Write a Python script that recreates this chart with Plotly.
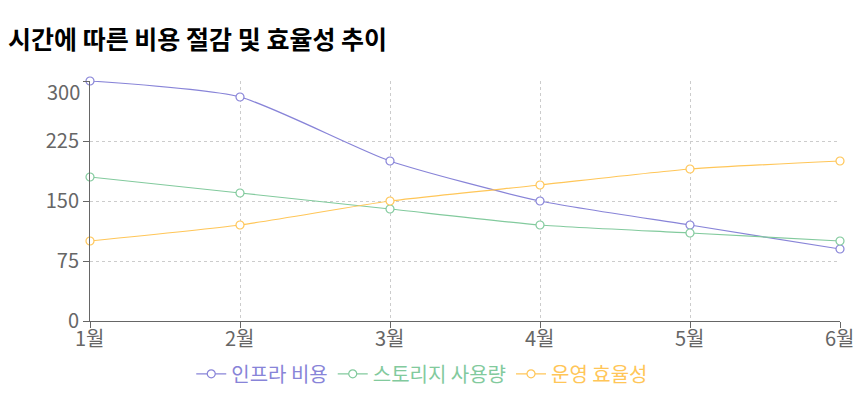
import plotly.graph_objects as go

months = ["1월", "2월", "3월", "4월", "5월", "6월"]
infra_cost = [300, 280, 200, 150, 120, 90]
storage_usage = [180, 160, 140, 120, 110, 100]
ops_efficiency = [100, 120, 150, 170, 190, 200]
y_ticks = [0, 75, 150, 225, 300]

series = [
    ("인프라 비용", infra_cost, "#8884d8"),
    ("스토리지 사용량", storage_usage, "#82ca9d"),
    ("운영 효율성", ops_efficiency, "#ffc658"),
]

FONT = "Noto Sans CJK KR"
fig = go.Figure()
for name, vals, color in series:
    fig.add_trace(go.Scatter(
        x=months, y=vals, mode="lines+markers",
        name=f"<span style='color:{color}'>{name}</span>",
        line=dict(color=color, width=1.2, shape="spline", smoothing=0.6),
        marker=dict(size=8, color="white", line=dict(color=color, width=1.2)),
        cliponaxis=False,
    ))

# top tick label is drawn slightly below its gridline in the reference
tick_text = [str(v) if v != y_ticks[-1] else "" for v in y_ticks]

annotations = [
    dict(text="<b>시간에 따른 비용 절감 및 효율성 추이</b>", xref="paper", yref="paper",
         x=-0.112, y=1.0, xanchor="left", yanchor="middle", yshift=43,
         showarrow=False, font=dict(size=25, color="#000", family=FONT)),
    dict(text=str(y_ticks[-1]), xref="paper", yref="y", x=0, y=y_ticks[-1],
         xanchor="right", yanchor="middle", xshift=-8, yshift=-10,
         showarrow=False, font=dict(size=20, color="#666", family=FONT)),
]
# x tick labels sit close to the axis in the reference
for m in months:
    annotations.append(dict(text=m, xref="x", yref="paper", x=m, y=0,
                            xanchor="center", yanchor="top", yshift=0,
                            showarrow=False, font=dict(size=20, color="#666", family=FONT)))

fig.update_layout(
    width=862, height=399,
    margin=dict(l=90, r=22, t=81, b=78, autoexpand=False),
    paper_bgcolor="white", plot_bgcolor="white",
    font=dict(family=FONT, size=20, color="#666"),
    showlegend=True,
    legend=dict(orientation="h", x=0.443, xanchor="center", y=-0.22, yanchor="middle",
                font=dict(size=20, family=FONT), itemwidth=30, tracegroupgap=0),
    annotations=annotations,
)
fig.update_xaxes(
    type="category", range=[0, 5], showline=True, linecolor="#666", linewidth=1,
    ticks="outside", ticklen=6, tickcolor="#666", automargin=False,
    showticklabels=False,
    showgrid=True, gridcolor="#ccc", griddash="3px,3px", gridwidth=1,
    zeroline=False,
)
fig.update_yaxes(
    range=[0, 300], tickvals=y_ticks, ticktext=tick_text, showline=True, linecolor="#666", linewidth=1,
    ticks="outside", ticklen=6, tickcolor="#666", automargin=False,
    showgrid=True, gridcolor="#ccc", griddash="3px,3px", gridwidth=1,
    zeroline=False, tickfont=dict(size=20, color="#666"),
)
fig.write_html("out.html", post_script="document.body.style.margin='0';",
               config={"displayModeBar": False})
